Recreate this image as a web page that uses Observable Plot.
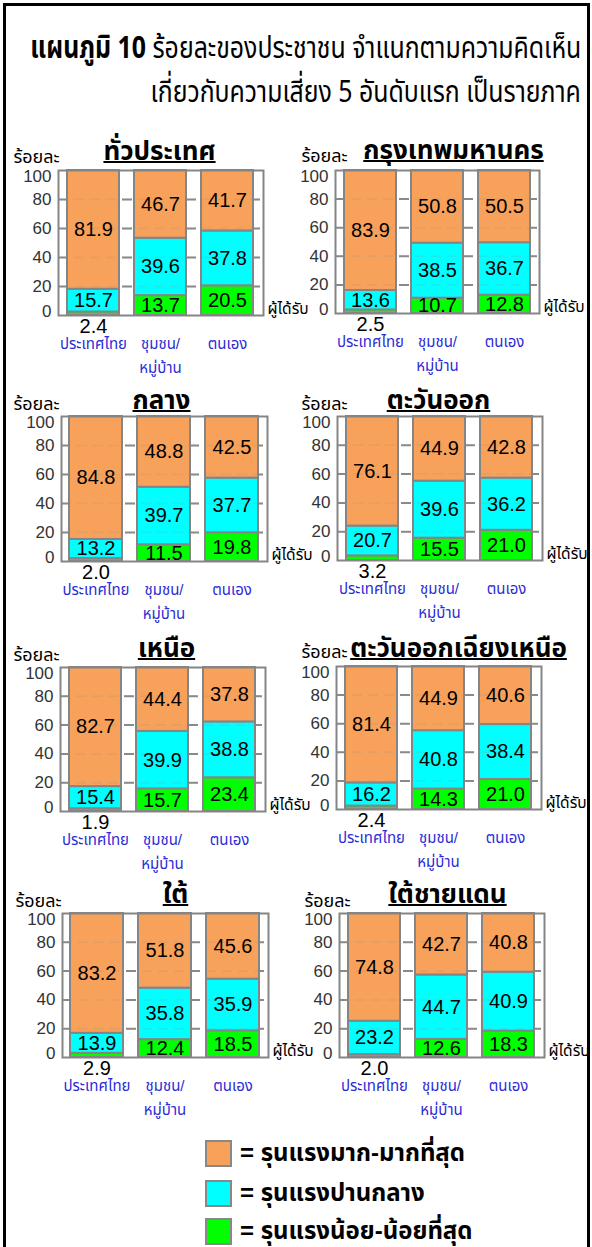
<!DOCTYPE html>
<html><head><meta charset="utf-8">
<script src="https://cdn.jsdelivr.net/npm/d3@7"></script>
<script src="https://cdn.jsdelivr.net/npm/@observablehq/plot@0.6"></script>
<style>
body{margin:0;background:#fff;}
#page{position:relative;width:592px;height:1247px;overflow:hidden;background:#fff;font-family:"Liberation Sans","Noto Sans Thai","Noto Sans",sans-serif;}
#frame{position:absolute;left:3px;top:3px;width:581px;height:1300px;border:3px solid #000;box-sizing:content-box;}
.t1{position:absolute;right:11px;white-space:nowrap;color:#000;font-size:31px;line-height:1;font-family:"Noto Sans Thai","Liberation Sans",sans-serif;font-stretch:condensed;transform-origin:100% 50%;}
.panel{position:absolute;}
.panel svg{overflow:visible;}
.leg{position:absolute;left:205px;font-size:24px;font-weight:bold;white-space:nowrap;}
.sw{position:absolute;left:0;width:23px;height:23px;border:2px solid #888;}
.lt{position:absolute;left:35px;top:-4px;}
</style></head><body><div id="page"><div id="frame"></div></div>
<script>
// ---- data ----
const regions = ["ทั่วประเทศ","กรุงเทพมหานคร","กลาง","ตะวันออก","เหนือ","ตะวันออกเฉียงเหนือ","ใต้","ใต้ชายแดน"];
const recipients = ["ประเทศไทย","ชุมชน/หมู่บ้าน","ตนเอง"];
const levels = ["รุนแรงน้อย-น้อยที่สุด","รุนแรงปานกลาง","รุนแรงมาก-มากที่สุด"];
// per region: [ประเทศไทย, ชุมชน/หมู่บ้าน, ตนเอง]
const lowValues  = [[2.4,13.7,20.5],[2.5,10.7,12.8],[2.0,11.5,19.8],[3.2,15.5,21.0],[1.9,15.7,23.4],[2.4,14.3,21.0],[2.9,12.4,18.5],[2.0,12.6,18.3]];
const midValues  = [[15.7,39.6,37.8],[13.6,38.5,36.7],[13.2,39.7,37.7],[20.7,39.6,36.2],[15.4,39.9,38.8],[16.2,40.8,38.4],[13.9,35.8,35.9],[23.2,44.7,40.9]];
const highValues = [[81.9,46.7,41.7],[83.9,50.8,50.5],[84.8,48.8,42.5],[76.1,44.9,42.8],[82.7,44.4,37.8],[81.4,44.9,40.6],[83.2,51.8,45.6],[74.8,42.7,40.8]];
const yTicks = [0,20,40,60,80,100];
const yLabel = "ร้อยละ";
const xLabel = "ผู้ได้รับ";
const titleBold = "แผนภูมิ 10";
const titleRest = "ร้อยละของประชาชน จำแนกตามความคิดเห็น";
const titleLine2 = "เกี่ยวกับความเสี่ยง 5 อันดับแรก  เป็นรายภาค";
const legendOrder = [2,1,0];

// ---- styles / layout ----
const colors = ["#00ff00","#00ffff","#f8a15b"];
const layout = [
  {x0:0,  L:58,  R:263, T:170, B:315, tx:159, tb:159, px:13,  pb:163},
  {x0:296,L:335, R:539, T:170, B:313, tx:453, tb:158, px:301, pb:162},
  {x0:0,  L:61,  R:267, T:416, B:561, tx:161, tb:408, px:13,  pb:410},
  {x0:296,L:337, R:542, T:416, B:560, tx:438, tb:408, px:301, pb:410},
  {x0:0,  L:60,  R:265, T:667, B:811, tx:166, tb:656, px:13,  pb:661},
  {x0:296,L:336, R:541, T:666, B:809, tx:458, tb:656, px:301, pb:658},
  {x0:0,  L:62,  R:268, T:913, B:1057,tx:175, tb:902, px:15,  pb:907},
  {x0:296,L:339, R:544, T:913, B:1057,tx:447, tb:902, px:304, pb:907}
];
const page = document.getElementById("page");

// title
const t1 = document.createElement("div");
t1.className = "t1"; t1.style.top = "33px";
t1.innerHTML = `<b>${titleBold}</b> ${titleRest}`;
page.appendChild(t1);
const t2 = document.createElement("div");
t2.className = "t1"; t2.style.top = "77px";
t2.textContent = titleLine2;
page.appendChild(t2);
const fit = 551 / t1.getBoundingClientRect().width;
t1.style.transform = `scaleX(${fit})`;
t2.style.transform = `scaleX(${fit})`;

const mt = 60, mb = 70;
const thaiFont = "'Liberation Sans','Noto Sans Thai',sans-serif";
regions.forEach((region, ri) => {
  const g = layout[ri];
  const data = [];
  levels.forEach((lev, li) => {
    const vals = [lowValues, midValues, highValues][li][ri];
    recipients.forEach((rc, ci) => data.push({region, recipient: rc, level: lev, value: vals[ci]}));
  });
  const axisOpts = {tickSize: 0, tickPadding: 7, label: null, fontSize: 17, fill: "#333"};
  const chart = Plot.plot({
    width: 296,
    height: (g.B - g.T) + mt + mb,
    marginTop: mt, marginBottom: mb,
    marginLeft: g.L - g.x0, marginRight: g.x0 + 296 - g.R,
    style: {overflow: "visible", fontFamily: thaiFont, fontSize: "17px", color: "#333", background: "transparent"},
    x: {domain: recipients, paddingInner: 0.22, paddingOuter: 0.12, axis: null},
    y: {domain: [0, 100], axis: null},
    color: {domain: levels, range: colors},
    marks: [
      Plot.ruleY(yTicks.slice(1, 5), {stroke: "#8a8a8a", strokeWidth: 2, strokeDasharray: "10,6"}),
      Plot.barY(data, {x: "recipient", y: "value", fill: "level", stroke: "#858585", strokeWidth: 2}),
      Plot.ruleY(yTicks.slice(1, 5), {stroke: "#8a8a8a", strokeWidth: 1.5, strokeOpacity: 0.18, strokeDasharray: "10,6"}),
      Plot.text(data, Plot.stackY({x: "recipient", y: "value", z: "level",
        text: d => d.value >= 5 ? d.value.toFixed(1) : null,
        fontSize: 20, fill: "#000", clip: true})),
      Plot.text(data.filter(d => d.level === levels[0]), {x: "recipient",
        text: d => d.value < 5 ? d.value.toFixed(1) : null,
        frameAnchor: "bottom", lineAnchor: "top", dy: 3, fontSize: 20, fill: "#000"}),
      Plot.frame({stroke: "#858585", strokeWidth: 2}),
      Plot.axisY(yTicks.slice(1, 5), axisOpts),
      Plot.axisY([yTicks[5]], {...axisOpts, dy: 6}),
      Plot.axisY([yTicks[0]], {...axisOpts, dy: -4}),
      Plot.text(recipients, {x: d => d, text: d => d.replace("/", "/\n"),
        frameAnchor: "bottom", lineAnchor: "top", dy: 17, lineHeight: 1.5625,
        fontSize: 15, fill: "#2b2bd6"}),
      Plot.text([region], {frameAnchor: "top-left", dx: g.tx - g.L, dy: g.tb - g.T,
        textAnchor: "middle", lineAnchor: "bottom", fontSize: 26, fontWeight: "bold", fill: "#000",
        fontFamily: "'Noto Sans Thai',sans-serif"}),
      Plot.text([yLabel], {frameAnchor: "top-left", dx: g.px - g.L, dy: g.pb - g.T - 1,
        textAnchor: "start", lineAnchor: "bottom", fontSize: 18, fill: "#000"}),
      Plot.text([xLabel], {frameAnchor: "bottom-right", dx: 4, dy: -2,
        textAnchor: "start", lineAnchor: "bottom", fontSize: 15.5, fill: "#000"})
    ]
  });
  const div = document.createElement("div");
  div.className = "panel";
  div.style.left = g.x0 + "px";
  div.style.top = (g.T - mt) + "px";
  div.appendChild(chart);
  page.appendChild(div);
  // underline the panel title, in page coordinates of the svg
  const svgRect = chart.getBoundingClientRect();
  d3.select(chart).selectAll("text").filter(function () { return this.textContent === region; }).each(function () {
    const r = this.getBoundingClientRect();
    const yLine = g.tb - g.T + mt + 3;
    d3.select(chart).append("line")
      .attr("x1", r.left - svgRect.left).attr("x2", r.right - svgRect.left)
      .attr("y1", yLine).attr("y2", yLine)
      .attr("stroke", "#000").attr("stroke-width", 2);
  });
});

// legend
const legTops = [1140, 1180, 1218];
legendOrder.forEach((li, k) => {
  const row = document.createElement("div");
  row.className = "leg";
  row.style.top = legTops[k] + "px";
  row.innerHTML = `<div class="sw" style="background:${colors[li]}"></div><div class="lt">= ${levels[li]}</div>`;
  page.appendChild(row);
});
</script>
</body></html>
